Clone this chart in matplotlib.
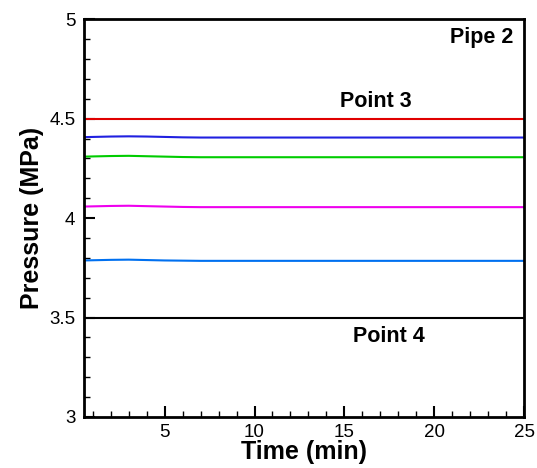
import matplotlib.pyplot as plt

plt.rcParams['font.family'] = ['Liberation Sans', 'DejaVu Sans']

# Time samples (min)
time = [0.5, 1, 2, 3, 4, 5, 6, 7, 8, 10, 15, 20, 25]

# Pressure series (MPa)
point3 = [4.5] * 13
curve1 = [4.407, 4.408, 4.41, 4.411, 4.41, 4.408, 4.406, 4.405, 4.405, 4.405, 4.405, 4.405, 4.405]
curve2 = [4.309, 4.31, 4.312, 4.313, 4.311, 4.309, 4.307, 4.306, 4.306, 4.306, 4.306, 4.306, 4.306]
curve3 = [4.058, 4.059, 4.061, 4.062, 4.06, 4.058, 4.056, 4.055, 4.055, 4.055, 4.055, 4.055, 4.055]
curve4 = [3.787, 3.788, 3.79, 3.791, 3.789, 3.787, 3.786, 3.785, 3.785, 3.785, 3.785, 3.785, 3.785]
point4 = [3.5] * 13

series = [point3, curve1, curve2, curve3, curve4, point4]
colors = ['#e00000', '#2020e0', '#00cc00', '#ee00ee', '#0070f0', 'black']

fig = plt.figure(figsize=(5.37, 4.68), dpi=100)
ax = fig.add_axes([0.156, 0.109, 0.820, 0.850])

for vals, c in zip(series, colors):
    ax.plot(time, vals, color=c, lw=1.5)

ax.set_xlim(0.5, 25)
ax.set_ylim(3, 5)
ax.set_xticks([5, 10, 15, 20, 25])
ax.set_xticks(range(1, 26), minor=True)
ax.set_yticks([3, 3.5, 4, 4.5, 5])
ax.set_yticklabels(['3', '3.5', '4', '4.5', '5'])
ax.set_yticks([3 + 0.1 * i for i in range(21)], minor=True)
ax.tick_params(direction='in', labelsize=13.5, width=1.5, length=8, right=False, top=False)
ax.tick_params(axis='x', pad=5)
ax.tick_params(axis='y', pad=6)
ax.tick_params(which='minor', direction='in', width=1, length=4, right=False, top=False)
for s in ax.spines.values():
    s.set_linewidth(2)

ax.set_xlabel('Time (min)', fontsize=18, fontweight='bold', labelpad=-1)
ax.set_ylabel('Pressure (MPa)', fontsize=18, fontweight='bold', labelpad=4)

ax.text(24.4, 4.907, 'Pipe 2', fontsize=15.5, fontweight='bold', ha='right', va='center')
ax.text(16.73, 4.588, 'Point 3', fontsize=15.5, fontweight='bold', ha='center', va='center')
ax.text(17.48, 3.405, 'Point 4', fontsize=15.5, fontweight='bold', ha='center', va='center')

fig.savefig('out.png', dpi=100)
